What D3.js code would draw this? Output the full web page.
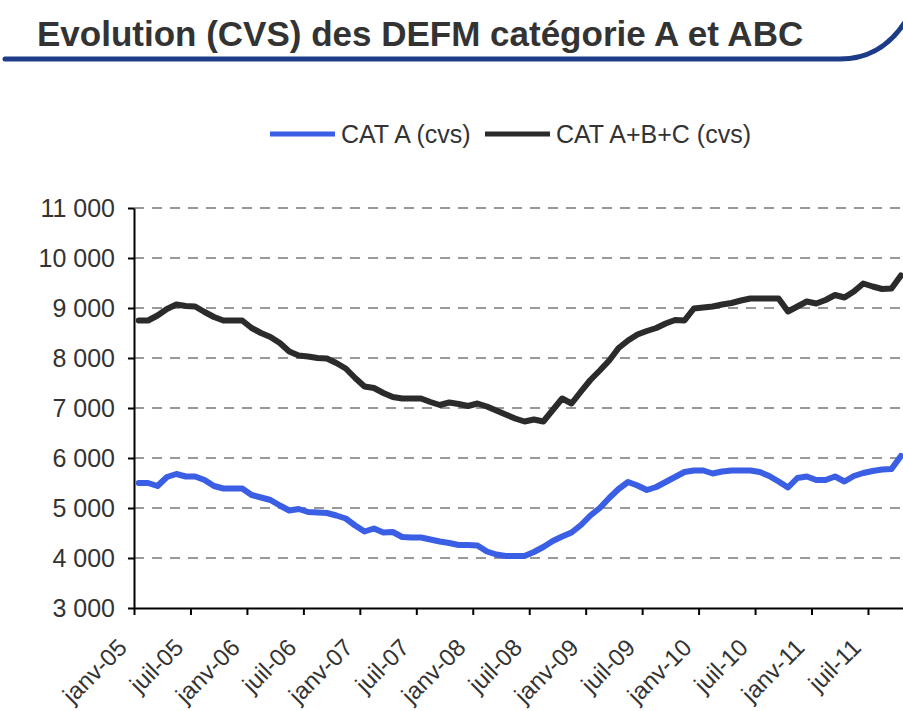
<!DOCTYPE html>
<html>
<head>
<meta charset="utf-8">
<script src="https://cdn.jsdelivr.net/npm/d3@7"></script>
<style>
  body { margin: 0; background: #fff; }
  svg { display: block; font-family: "Liberation Sans", Arial, sans-serif; }
</style>
</head>
<body>
<div id="chart"></div>
<script>
// monthly values, janv-05 .. oct-11
var catA = [
  5500, 5500, 5440, 5620, 5680, 5630, 5630, 5560, 5440, 5390, 5390, 5390,
  5260, 5210, 5160, 5050, 4950, 4980, 4920, 4910, 4900, 4850, 4790, 4650,
  4530, 4590, 4510, 4520, 4420, 4410, 4410, 4370, 4330, 4300, 4260, 4260,
  4250, 4130, 4070, 4040, 4040, 4040, 4120, 4220, 4340, 4430, 4510, 4660,
  4850, 5000, 5200, 5380, 5520, 5450, 5360, 5420, 5520, 5620, 5720, 5750,
  5750, 5690, 5730, 5750, 5750, 5750, 5720, 5640, 5530, 5410, 5600, 5630,
  5560, 5560, 5630, 5530, 5640, 5700, 5740, 5770, 5780, 6040
];

var catABC = [
  8750, 8750, 8850, 8980, 9070, 9040, 9030, 8920, 8820, 8750, 8750, 8750,
  8600, 8500, 8420, 8300, 8130, 8050, 8030, 8000, 7990, 7900, 7790, 7600,
  7430, 7400, 7300, 7220, 7190, 7190, 7190, 7120, 7060, 7110, 7080, 7040,
  7090, 7030, 6950, 6870, 6790, 6730, 6770, 6730, 6960, 7190, 7090, 7330,
  7560, 7750, 7950, 8200, 8350, 8470, 8540, 8600, 8690, 8760, 8750, 8990,
  9010, 9030, 9070, 9100, 9150, 9190, 9190, 9190, 9190, 8930, 9030, 9130,
  9090, 9160, 9260, 9210, 9330, 9490, 9430, 9380, 9390, 9650
];

var tickLabels = [
  "janv-05", "juil-05", "janv-06", "juil-06", "janv-07", "juil-07", "janv-08",
  "juil-08", "janv-09", "juil-09", "janv-10", "juil-10", "janv-11", "juil-11"
];

var yTicks = [3000, 4000, 5000, 6000, 7000, 8000, 9000, 10000, 11000];

var seriesNames = ["CAT A (cvs)", "CAT A+B+C (cvs)"];
var seriesColors = ["#3a5ee4", "#2b2b2b"];

var margin = { left: 134, top: 208 };
var nMonths = 84;
var width = nMonths * 9.41;
var height = 400;

var svg = d3.select("#chart")
  .append("svg")
  .attr("width", 903)
  .attr("height", 711);

// title + swoosh underline
svg.append("text")
  .attr("x", 37)
  .attr("y", 46)
  .attr("font-size", "35px")
  .attr("font-weight", "bold")
  .attr("fill", "#333")
  .text("Evolution (CVS) des DEFM catégorie A et ABC");

svg.append("path")
  .attr("d", "M5,59 L840,59 C870,59 890,45 905,22")
  .attr("fill", "none")
  .attr("stroke", "#1d3c88")
  .attr("stroke-width", 5)
  .attr("stroke-linecap", "round");

// legend
var legend = svg.append("g");
var legendX = [270, 485];
seriesNames.forEach(function (name, i) {
  legend.append("line")
    .attr("x1", legendX[i])
    .attr("x2", legendX[i] + 65)
    .attr("y1", 134)
    .attr("y2", 134)
    .attr("stroke", seriesColors[i])
    .attr("stroke-width", 5);
  legend.append("text")
    .attr("x", legendX[i] + 71)
    .attr("y", 143)
    .attr("font-size", "25px")
    .attr("fill", "#333")
    .text(name);
});

var g = svg.append("g")
  .attr("transform", "translate(" + margin.left + ", " + margin.top + ")");

var x = d3.scaleLinear()
  .domain([0, nMonths])
  .range([0, width]);

var y = d3.scaleLinear()
  .domain([3000, 11000])
  .range([height, 0]);

// gridlines
g.selectAll(".grid")
  .data(yTicks.slice(1))
  .enter()
  .append("line")
  .attr("class", "grid")
  .attr("x1", 0)
  .attr("x2", width)
  .attr("y1", function (d) { return y(d); })
  .attr("y2", function (d) { return y(d); })
  .attr("stroke", "#999")
  .attr("stroke-width", 2)
  .attr("stroke-dasharray", "10,8");

var fr = d3.formatLocale({ decimal: ",", thousands: " ", grouping: [3] });

// Y-Axis
var yAxisCall = d3.axisLeft(y)
  .tickValues(yTicks)
  .tickSize(6)
  .tickSizeOuter(0)
  .tickPadding(13)
  .tickFormat(fr.format(","));

var yAxis = g.append("g")
  .attr("class", "y axis")
  .call(yAxisCall);

yAxis.selectAll("text")
  .attr("font-size", "25px")
  .attr("fill", "#333");

// X-Axis
var xAxisCall = d3.axisBottom(x)
  .tickValues(d3.range(0, tickLabels.length * 6, 6))
  .tickSize(7)
  .tickSizeOuter(0)
  .tickFormat(function (d, i) { return tickLabels[i]; });

var xAxis = g.append("g")
  .attr("class", "x axis")
  .attr("transform", "translate(0, " + height + ")")
  .call(xAxisCall);

xAxis.selectAll("text")
  .attr("font-size", "24px")
  .attr("fill", "#333")
  .attr("x", 0)
  .attr("y", 0)
  .attr("dy", 0)
  .attr("text-anchor", "end")
  .attr("transform", "translate(-6, 41) rotate(-45)");

g.selectAll(".axis path, .axis line")
  .attr("stroke", "#000")
  .attr("stroke-width", 2);

// Lines
var line = d3.line()
  .x(function (d, i) { return x(i + 0.5); })
  .y(function (d) { return y(d); });

[catA, catABC].forEach(function (s, i) {
  g.append("path")
    .datum(s)
    .attr("fill", "none")
    .attr("stroke", seriesColors[i])
    .attr("stroke-width", 6)
    .attr("stroke-linejoin", "round")
    .attr("stroke-linecap", "round")
    .attr("d", line);
});
</script>
</body>
</html>
